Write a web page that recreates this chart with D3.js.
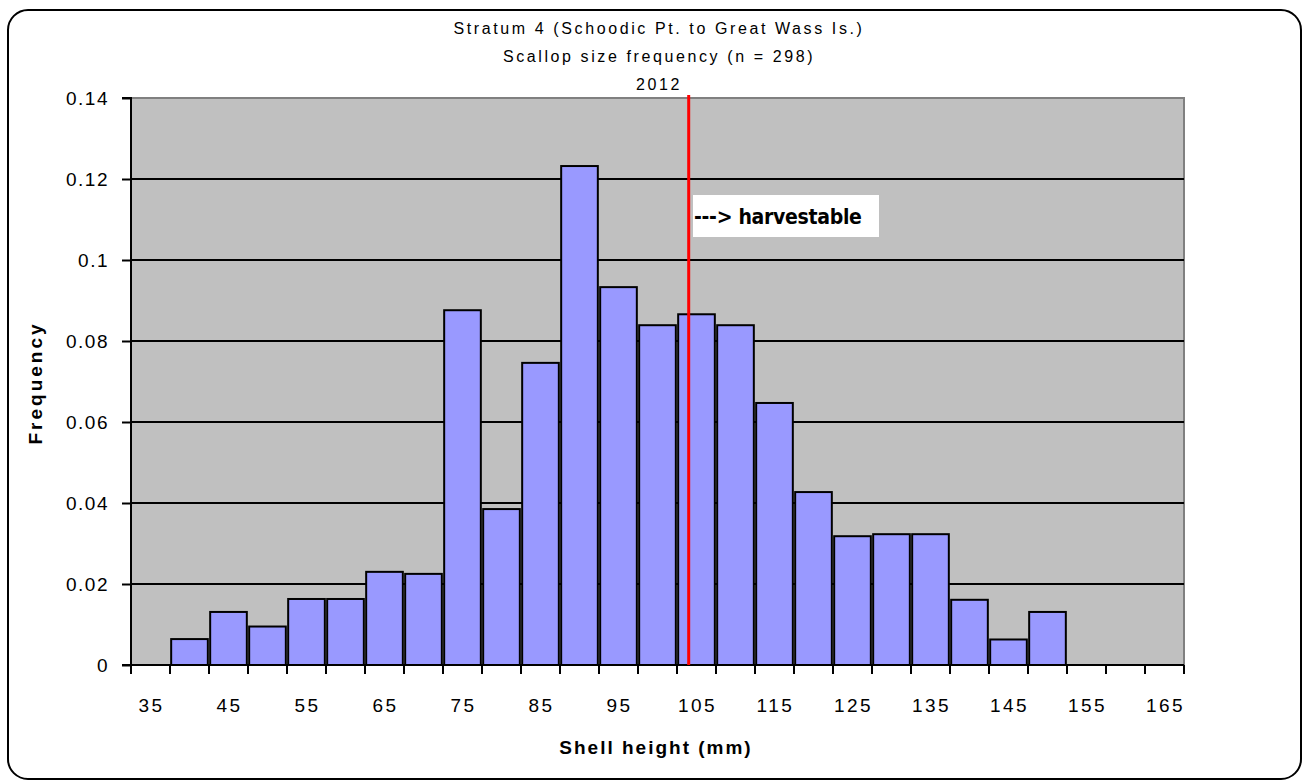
<!DOCTYPE html>
<html><head><meta charset="utf-8">
<script src="https://cdn.jsdelivr.net/npm/d3@7"></script>
<style>
html,body{margin:0;padding:0;background:#fff;}
text{font-family:"Liberation Sans",Arial,sans-serif;}
</style></head>
<body><svg id="chart" width="1310" height="783"></svg>
<script>
const titleLines = ["Stratum 4 (Schoodic Pt. to Great Wass Is.)", "Scallop size frequency (n = 298)", "2012"];
const categories = [35,40,45,50,55,60,65,70,75,80,85,90,95,100,105,110,115,120,125,130,135,140,145,150,155,160,165];
const frequency = [0,0.0064,0.0131,0.0095,0.0163,0.0163,0.023,0.0225,0.0876,0.0385,0.0746,0.1232,0.0933,0.0839,0.0866,0.0839,0.0647,0.0427,0.0318,0.0323,0.0323,0.0161,0.0063,0.0131,0,0,0];
const xTickLabels = [35,45,55,65,75,85,95,105,115,125,135,145,155,165];
const yTicks = [0,0.02,0.04,0.06,0.08,0.1,0.12,0.14];
const harvestLine = 104;
const annotation = "---> harvestable";
const xTitle = "Shell height (mm)";
const yTitle = "Frequency";

const svg = d3.select("#chart");
const L = 131, R = 1184, T = 98, B = 665;

svg.append("rect").attr("x",8).attr("y",10).attr("width",1293).attr("height",769)
  .attr("rx",20).attr("fill","#fff").attr("stroke","#000").attr("stroke-width",2);

const x = d3.scaleBand().domain(categories).range([L,R]).paddingInner(0.06).paddingOuter(0.03);
const xEdge = d3.scaleLinear().domain([0,categories.length]).range([L,R]);
const xLin = d3.scaleLinear().domain([categories[0]-2.5, categories[categories.length-1]+2.5]).range([L,R]);
const y = d3.scaleLinear().domain([0,0.14]).range([B,T]);

svg.append("rect").attr("x",L).attr("y",T).attr("width",R-L).attr("height",B-T)
  .attr("fill","#c0c0c0").attr("stroke","#808080").attr("stroke-width",2);

svg.append("g").selectAll("line").data(yTicks.filter(d=>d>0 && d<0.14)).join("line")
  .attr("x1",L).attr("x2",R).attr("y1",d=>Math.round(y(d))).attr("y2",d=>Math.round(y(d)))
  .attr("stroke","#000").attr("stroke-width",2);

svg.append("g").selectAll("rect").data(categories.map((c,i)=>({c,v:frequency[i]})).filter(d=>d.v>0)).join("rect")
  .attr("x",d=>x(d.c)).attr("width",x.bandwidth())
  .attr("y",d=>y(d.v)).attr("height",d=>B-y(d.v))
  .attr("fill","#9999ff").attr("stroke","#000").attr("stroke-width",2);

// y axis
const yAxis = d3.axisLeft(y).tickValues(yTicks).tickSize(9).tickPadding(13)
  .tickFormat(d=>d===0?"0":String(+d.toFixed(2)));
const gy = svg.append("g").attr("transform",`translate(${L},0)`).call(yAxis);
gy.select(".domain").attr("stroke","#000").attr("stroke-width",2).attr("d",`M-9,${T}H0V${B}H-9`);
gy.selectAll(".tick line").attr("stroke","#000").attr("stroke-width",2);
gy.selectAll(".tick text").attr("font-size",19).attr("fill","#000").attr("letter-spacing","1.5px")
  .style("font-family","Liberation Sans, Arial, sans-serif");

// x axis: tick marks at bin edges
const edges = d3.range(categories.length+1);
svg.append("line").attr("x1",L).attr("x2",R).attr("y1",B).attr("y2",B).attr("stroke","#000").attr("stroke-width",2);
svg.append("g").selectAll("line").data(edges).join("line")
  .attr("x1",d=>xEdge(d)).attr("x2",d=>xEdge(d)).attr("y1",B).attr("y2",B+9)
  .attr("stroke","#000").attr("stroke-width",2);
svg.append("g").selectAll("text").data(xTickLabels).join("text")
  .attr("x",d=>x(d)+x.bandwidth()/2+1).attr("y",712).attr("text-anchor","middle")
  .attr("font-size",19).attr("letter-spacing","2.5px").text(d=>d);

// harvest line
svg.append("line").attr("x1",xLin(harvestLine)).attr("x2",xLin(harvestLine)).attr("y1",T-3).attr("y2",B)
  .attr("stroke","#ff0000").attr("stroke-width",3);

// annotation box
svg.append("rect").attr("x",693).attr("y",195).attr("width",186).attr("height",42).attr("fill","#fff");
svg.append("text").attr("x",694).attr("y",224).attr("font-size",21).attr("font-weight","bold")
  .attr("letter-spacing","-0.3px")
  .style("font-family","'Liberation Sans Narrow','DejaVu Sans Condensed',Arial,sans-serif")
  .text(annotation);

// titles
svg.append("g").selectAll("text").data(titleLines).join("text")
  .attr("x",659).attr("y",(d,i)=>34+i*28).attr("text-anchor","middle")
  .attr("font-size",16).attr("letter-spacing","2.6px").text(d=>d);

svg.append("text").attr("x",656).attr("y",754).attr("text-anchor","middle")
  .attr("font-size",19).attr("font-weight","bold").attr("letter-spacing","2px").text(xTitle);
svg.append("text").attr("transform","translate(42,383) rotate(-90)").attr("text-anchor","middle")
  .attr("font-size",19).attr("font-weight","bold").attr("letter-spacing","3px").text(yTitle);
</script></body></html>
